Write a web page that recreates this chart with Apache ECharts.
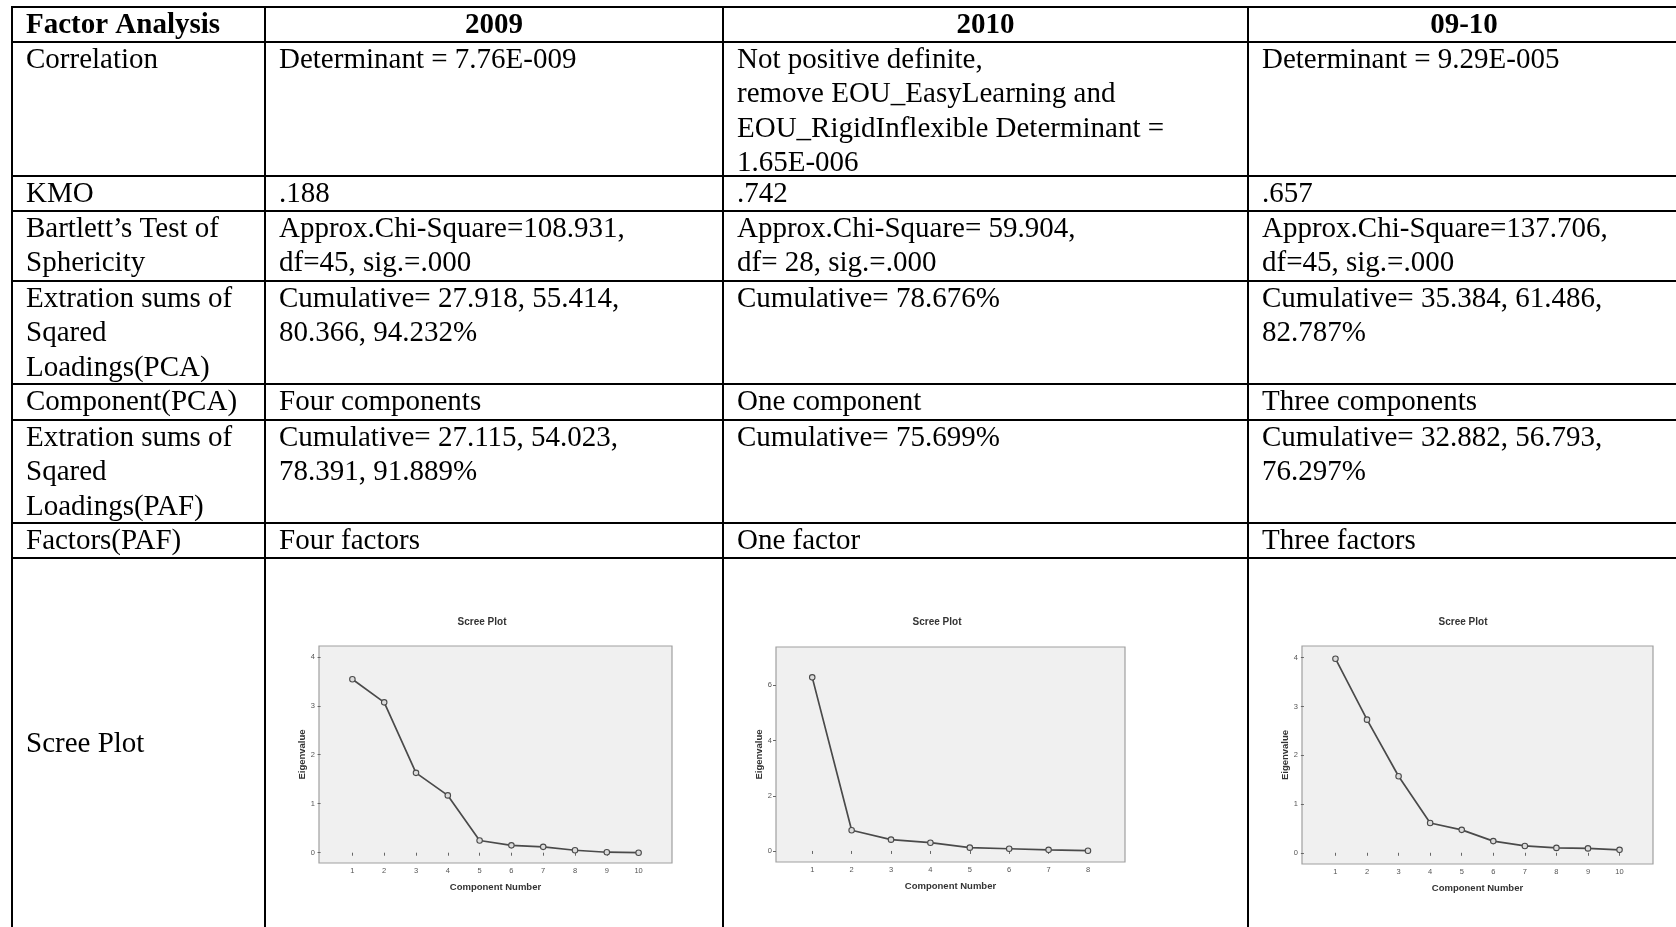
<!DOCTYPE html>
<html>
<head>
<meta charset="utf-8">
<script src="https://cdn.jsdelivr.net/npm/echarts@6/dist/echarts.min.js"></script>
<style>
html,body{margin:0;padding:0;background:#fff;}
#chart{width:1676px;height:927px;}
</style>
</head>
<body>
<div id="chart"></div>
<script>
// ---------- data ----------
const headers = ["Factor Analysis", "2009", "2010", "09-10"];
const rowLabels = [
  "Correlation",
  "KMO",
  "Bartlett’s Test of\nSphericity",
  "Extration sums of\nSqared\nLoadings(PCA)",
  "Component(PCA)",
  "Extration sums of\nSqared\nLoadings(PAF)",
  "Factors(PAF)"
];
const col2009 = [
  "Determinant = 7.76E-009",
  ".188",
  "Approx.Chi-Square=108.931,\ndf=45, sig.=.000",
  "Cumulative= 27.918, 55.414,\n80.366, 94.232%",
  "Four components",
  "Cumulative= 27.115, 54.023,\n78.391, 91.889%",
  "Four factors"
];
const col2010 = [
  "Not positive definite,\nremove EOU_EasyLearning and\nEOU_RigidInflexible Determinant =\n1.65E-006",
  ".742",
  "Approx.Chi-Square= 59.904,\ndf= 28, sig.=.000",
  "Cumulative= 78.676%",
  "One component",
  "Cumulative= 75.699%",
  "One factor"
];
const col0910 = [
  "Determinant = 9.29E-005",
  ".657",
  "Approx.Chi-Square=137.706,\ndf=45, sig.=.000",
  "Cumulative= 35.384, 61.486,\n82.787%",
  "Three components",
  "Cumulative= 32.882, 56.793,\n76.297%",
  "Three factors"
];
const screeRowLabel = "Scree Plot";
const screeTitle = "Scree Plot";
const xAxisTitle = "Component Number";
const yAxisTitle = "Eigenvalue";

const comp2009 = [1,2,3,4,5,6,7,8,9,10];
const eig2009  = [3.54,3.07,1.63,1.17,0.25,0.15,0.12,0.05,0.01,0.00];
const comp2010 = [1,2,3,4,5,6,7,8];
const eig2010  = [6.29,0.75,0.41,0.30,0.12,0.08,0.04,0.01];
const comp0910 = [1,2,3,4,5,6,7,8,9,10];
const eig0910  = [3.98,2.73,1.57,0.61,0.47,0.24,0.14,0.10,0.09,0.06];
const yTicks2009 = [0,1,2,3,4];
const yTicks2010 = [0,2,4,6];
const yTicks0910 = [0,1,2,3,4];

// ---------- layout ----------
const colX = [12, 265, 723, 1248, 1680];
const rowY = [7, 42, 176, 211, 281, 384, 420, 523, 558, 960];
const FONT = '29px "Liberation Serif", "Times New Roman", serif';
const BFONT = 'bold 29px "Liberation Serif", "Times New Roman", serif';
const LH = 34.5;

const graphics = [];
rowY.slice(0, 9).forEach(y => {
  graphics.push({type:'line', shape:{x1:colX[0]-1, y1:y, x2:1680, y2:y}, style:{stroke:'#000', lineWidth:2}, silent:true});
});
colX.forEach(x => {
  graphics.push({type:'line', shape:{x1:x, y1:rowY[0], x2:x, y2:960}, style:{stroke:'#000', lineWidth:2}, silent:true});
});
graphics.push({type:'text', style:{text:headers[0], x:colX[0]+14, y:rowY[0]+1, font:BFONT, fill:'#000', lineHeight:LH, verticalAlign:'top', align:'left'}});
for (let c = 1; c <= 3; c++) {
  graphics.push({type:'text', style:{text:headers[c], x:(colX[c]+colX[c+1])/2, y:rowY[0]+1, font:BFONT, fill:'#000', lineHeight:LH, verticalAlign:'top', align:'center'}});
}
const cols = [rowLabels, col2009, col2010, col0910];
for (let r = 0; r < rowLabels.length; r++) {
  for (let c = 0; c < 4; c++) {
    graphics.push({type:'text', style:{text:cols[c][r], x:colX[c]+14, y:rowY[r+1]+1, font:FONT, fill:'#000', lineHeight:LH, verticalAlign:'top', align:'left'}});
  }
}
graphics.push({type:'text', style:{text:screeRowLabel, x:colX[0]+14, y:744, font:FONT, fill:'#000', verticalAlign:'middle', align:'left'}});

const plots = [
  {comp:comp2009, eig:eig2009, ticks:yTicks2009, box:[319,646,353,217], x:[-0.05,11.05], y:[-0.21,4.22], title:482},
  {comp:comp2010, eig:eig2010, ticks:yTicks2010, box:[776,647,349,215], x:[0.08,8.94], y:[-0.4,7.39], title:937},
  {comp:comp0910, eig:eig0910, ticks:yTicks0910, box:[1302,646,351,218], x:[-0.06,11.06], y:[-0.23,4.24], title:1463}
];
const grids = [], xAxes = [], yAxes = [], series = [];
plots.forEach((p, i) => {
  grids.push({left:p.box[0], top:p.box[1], width:p.box[2], height:p.box[3], show:true,
    backgroundColor:'#f0f0f0', borderColor:'#a0a0a0', borderWidth:1.2, containLabel:false});
  xAxes.push({type:'value', gridIndex:i, min:p.x[0], max:p.x[1],
    axisLine:{show:false}, splitLine:{show:false},
    axisTick:{show:true, length:3, customValues:p.comp, lineStyle:{color:'#666'}},
    axisLabel:{show:true, customValues:p.comp, fontSize:7.5, color:'#555', margin:4, fontFamily:'Liberation Sans'},
    name:xAxisTitle, nameLocation:'middle', nameGap:19,
    nameTextStyle:{fontSize:9.5, fontWeight:'bold', color:'#333', fontFamily:'Liberation Sans'}});
  yAxes.push({type:'value', gridIndex:i, min:p.y[0], max:p.y[1],
    axisLine:{show:false}, splitLine:{show:false},
    axisTick:{show:true, length:3, customValues:p.ticks, lineStyle:{color:'#666'}},
    axisLabel:{show:true, customValues:p.ticks, fontSize:7.5, color:'#555', margin:4, fontFamily:'Liberation Sans'},
    name:yAxisTitle, nameLocation:'middle', nameGap:11, nameRotate:90,
    nameTextStyle:{fontSize:9.5, fontWeight:'bold', color:'#333', fontFamily:'Liberation Sans'}});
  series.push({type:'line', xAxisIndex:i, yAxisIndex:i,
    data:p.comp.map((c, k) => [c, p.eig[k]]),
    symbol:'circle', symbolSize:5.5, showSymbol:true,
    lineStyle:{color:'#4a4a4a', width:1.7},
    itemStyle:{color:'#dcdcdc', borderColor:'#4a4a4a', borderWidth:1.1},
    emphasis:{disabled:true}});
  graphics.push({type:'text', style:{text:screeTitle, x:p.title, y:622, font:'bold 10px "Liberation Sans", Arial, sans-serif', fill:'#333', align:'center', verticalAlign:'middle'}});
});

const chart = echarts.init(document.getElementById('chart'), null, {renderer:'canvas'});
chart.setOption({
  backgroundColor:'#fff',
  animation:false,
  grid:grids, xAxis:xAxes, yAxis:yAxes, series:series,
  graphic:graphics
});
</script>
</body>
</html>
